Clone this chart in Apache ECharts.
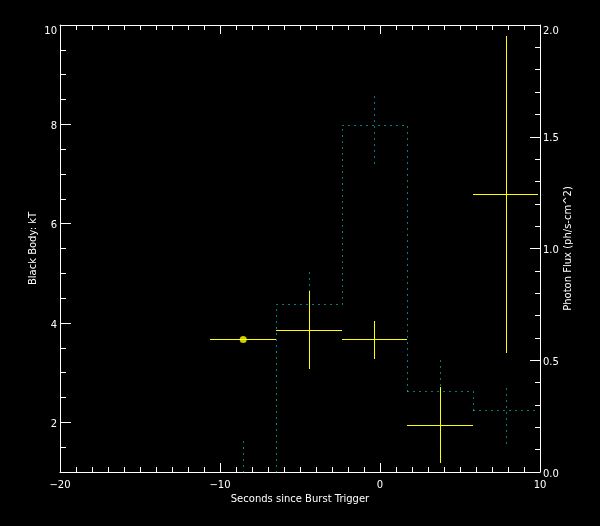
<!DOCTYPE html>
<html>
<head>
<meta charset="utf-8">
<script src="https://cdn.jsdelivr.net/npm/echarts@6/dist/echarts.min.js"></script>
<style>
html,body{margin:0;padding:0;background:#000;}
#chart{width:600px;height:526px;}
</style>
</head>
<body>
<div id="chart"></div>
<script>
// ---- data ----
const binEdges   = [-10.6, -6.5, -2.4, 1.7, 5.8, 9.9];
const binCenters = [-8.55, -4.45, -0.35, 3.75, 7.85];
const kT         = [3.67, 3.85, 3.67, 1.95, 6.59];
const kTLow      = [3.67, 3.07, 3.28, 1.18, 3.39];
const kTHigh     = [3.67, 4.64, 4.04, 2.72, 9.78];
const flux       = [-0.03, 0.753, 1.551, 0.361, 0.276];
const fluxLow    = [-0.20, 0.595, 1.381, 0.203, 0.128];
const fluxHigh   = [0.157, 0.910, 1.705, 0.519, 0.397];
const xTicks     = [-20, -10, 0, 10];
const kTTicks    = [2, 4, 6, 8, 10];
const fluxTicks  = [0, 0.5, 1.0, 1.5, 2.0];

const FONT = 'DejaVu Sans';
const WHITE = '#ffffff';
const YELLOW = '#ffff00';
const CYAN = '#00ffff';

// histogram bins: [left edge, right edge, value, previous value]
const stepRows = flux.map((v, i) => [binEdges[i], binEdges[i + 1], v, i > 0 ? flux[i - 1] : v]);
const kTRows = binCenters.map((c, i) => [binEdges[i], binEdges[i + 1], c, kT[i], kTLow[i], kTHigh[i]]);
const fluxErrRows = binCenters.map((c, i) => [c, fluxLow[i], fluxHigh[i]]);

function clampY(y, cs) { return Math.max(cs.y, Math.min(cs.y + cs.height, y)); }
function snap(v) { return Math.round(v) + 0.5; }

const chart = echarts.init(document.getElementById('chart'), null, {renderer: 'canvas'});
const axisLineW = {show: true, onZero: false, lineStyle: {color: WHITE, width: 1}};
const textStyle = {color: WHITE, fontFamily: FONT, fontSize: 10};
const richLbl = {
  n: {color: WHITE, fontFamily: FONT, fontSize: 10, padding: [4, 0, 0, 0]},
  t: {color: WHITE, fontFamily: FONT, fontSize: 10, padding: [12, 0, 0, 0]}
};
const DOT = [1, 5];

chart.setOption({
  backgroundColor: '#000000',
  animation: false,
  grid: {left: 60, right: 60, top: 25, bottom: 54, containLabel: false},
  xAxis: [
    {
      type: 'value', position: 'bottom', min: -20, max: 10, interval: 10,
      axisLine: axisLineW,
      axisTick: {show: true, inside: true, length: 9, lineStyle: {color: WHITE}},
      minorTick: {show: true, splitNumber: 10, length: 5, lineStyle: {color: WHITE}},
      axisLabel: Object.assign({margin: 8, formatter: v => (v < 0 ? '\u2212' + Math.abs(v) : String(v)), customValues: xTicks}, textStyle),
      splitLine: {show: false},
      name: 'Seconds since Burst Trigger', nameLocation: 'middle', nameGap: 21,
      nameTextStyle: textStyle
    },
    {
      type: 'value', position: 'top', min: -20, max: 10, interval: 10,
      axisLine: axisLineW,
      axisTick: {show: true, inside: true, length: 9, lineStyle: {color: WHITE}},
      minorTick: {show: true, splitNumber: 10, length: 5, lineStyle: {color: WHITE}},
      axisLabel: {show: false},
      splitLine: {show: false}
    }
  ],
  yAxis: [
    {
      type: 'value', position: 'left', min: 1, max: 10,
      axisLine: axisLineW,
      axisTick: {show: true, inside: true, length: 11, customValues: kTTicks, lineStyle: {color: WHITE}},
      axisLabel: {margin: 3, customValues: kTTicks, rich: richLbl,
        formatter: v => (v === 10 ? '{t|' + v + '}' : '{n|' + v + '}')},
      splitLine: {show: false},
      name: 'Black Body: kT', nameLocation: 'middle', nameGap: 22, nameRotate: 90,
      nameMoveOverlap: false,
      nameTextStyle: textStyle
    },
    {
      type: 'value', position: 'left', min: 1, max: 10, interval: 0.5,
      axisLine: {show: false, onZero: false},
      axisTick: {show: true, inside: true, length: 6, lineStyle: {color: WHITE}},
      axisLabel: {show: false},
      splitLine: {show: false}
    },
    {
      type: 'value', position: 'right', min: 0, max: 2, interval: 0.5,
      axisLine: axisLineW,
      axisTick: {show: true, inside: true, length: 10, lineStyle: {color: WHITE}},
      minorTick: {show: true, splitNumber: 5, length: 5, lineStyle: {color: WHITE}},
      axisLabel: {margin: 3, rich: richLbl,
        formatter: v => (v === 2 ? '{t|' + v.toFixed(1) + '}' : '{n|' + v.toFixed(1) + '}')},
      splitLine: {show: false},
      name: 'Photon Flux (ph/s-cm^2)', nameLocation: 'middle', nameGap: 23, nameRotate: 90,
      nameMoveOverlap: false,
      nameTextStyle: textStyle
    }
  ],
  series: [
    {
      type: 'custom', xAxisIndex: 0, yAxisIndex: 2, data: stepRows, silent: true,
      renderItem: function (params, api) {
        const cs = params.coordSys;
        const l = api.coord([api.value(0), api.value(2)]);
        const r = api.coord([api.value(1), api.value(2)]);
        const p = api.coord([api.value(0), api.value(3)]);
        const y = clampY(l[1], cs);
        const children = [];
        if (l[1] <= cs.y + cs.height) {
          children.push({type: 'line', shape: {x1: snap(l[0]), y1: snap(y), x2: snap(r[0]), y2: snap(y)},
            style: {stroke: CYAN, lineWidth: 1, lineDash: DOT}});
        }
        if (Math.abs(p[1] - l[1]) > 0.5) {
          children.push({type: 'line',
            shape: {x1: snap(l[0]), y1: snap(clampY(Math.max(p[1], l[1]), cs)), x2: snap(l[0]), y2: snap(clampY(Math.min(p[1], l[1]), cs))},
            style: {stroke: CYAN, lineWidth: 1, lineDash: DOT}});
        }
        return {type: 'group', children: children};
      }
    },
    {
      type: 'custom', xAxisIndex: 0, yAxisIndex: 2, data: fluxErrRows, silent: true,
      renderItem: function (params, api) {
        const cs = params.coordSys;
        const p1 = api.coord([api.value(0), api.value(1)]);
        const p2 = api.coord([api.value(0), api.value(2)]);
        const x = snap(p1[0]);
        return {
          type: 'line',
          shape: {x1: x, y1: snap(clampY(p1[1], cs)), x2: x, y2: snap(clampY(p2[1], cs))},
          style: {stroke: CYAN, lineWidth: 1, lineDash: DOT}
        };
      }
    },
    {
      type: 'custom', xAxisIndex: 0, yAxisIndex: 0, data: kTRows, silent: true, z: 5,
      renderItem: function (params, api) {
        const cs = params.coordSys;
        const a = api.coord([api.value(0), api.value(3)]);
        const b = api.coord([api.value(1), api.value(3)]);
        const lo = api.coord([api.value(2), api.value(4)]);
        const hi = api.coord([api.value(2), api.value(5)]);
        const y = snap(a[1]);
        const x = snap(lo[0]);
        const children = [{
          type: 'line', shape: {x1: Math.round(a[0]), y1: y, x2: Math.round(b[0]), y2: y},
          style: {stroke: YELLOW, lineWidth: 1}
        }];
        if (Math.abs(hi[1] - lo[1]) > 0.5) {
          children.push({
            type: 'line', shape: {x1: x, y1: Math.round(clampY(lo[1], cs)), x2: x, y2: Math.round(clampY(hi[1], cs))},
            style: {stroke: YELLOW, lineWidth: 1}
          });
        }
        return {type: 'group', children: children};
      }
    },
    {
      type: 'scatter', xAxisIndex: 0, yAxisIndex: 0, silent: true, z: 6,
      data: [[binCenters[0], kT[0]]], symbol: 'circle', symbolSize: 7,
      itemStyle: {color: YELLOW}
    }
  ]
});
</script>
</body>
</html>
